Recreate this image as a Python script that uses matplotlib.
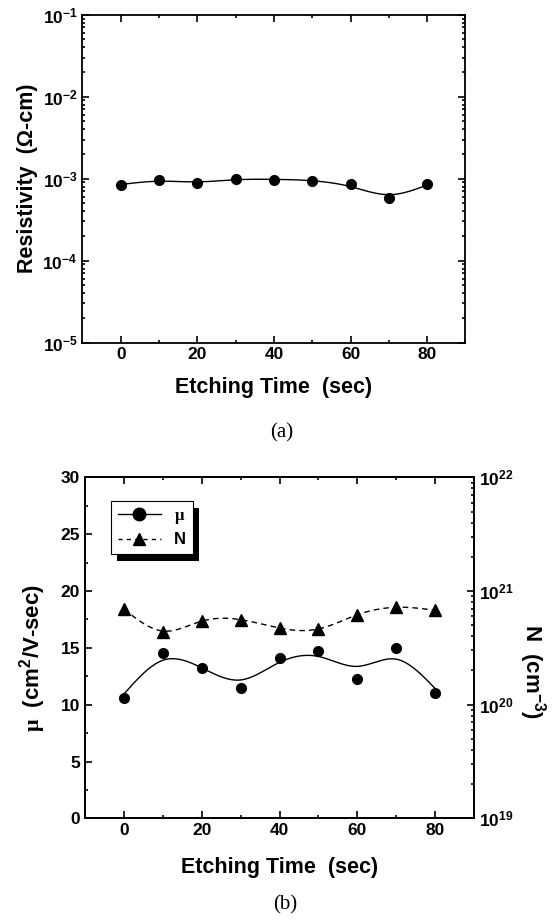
import numpy as np
import matplotlib
matplotlib.use("Agg")
import matplotlib.pyplot as plt
from matplotlib.ticker import MultipleLocator, FuncFormatter, NullFormatter, LogLocator
from matplotlib.lines import Line2D
from matplotlib.patches import Rectangle

plt.rcParams['font.family'] = ['Liberation Sans', 'DejaVu Sans']
plt.rcParams['font.weight'] = 'bold'
plt.rcParams['axes.labelweight'] = 'bold'
plt.rcParams['mathtext.fontset'] = 'custom'
plt.rcParams['mathtext.rm'] = 'Liberation Sans:bold'
plt.rcParams['mathtext.bf'] = 'Liberation Sans:bold'
plt.rcParams['mathtext.it'] = 'Liberation Sans:bold'
plt.rcParams['mathtext.sf'] = 'Liberation Serif'

# data
etch_time = [0, 10, 20, 30, 40, 50, 60, 70, 80]
resistivity = [8.4e-4, 9.6e-4, 8.8e-4, 9.9e-4, 9.7e-4, 9.4e-4, 8.5e-4, 5.8e-4, 8.7e-4]
mobility = [10.6, 14.55, 13.24, 11.46, 14.09, 14.73, 12.28, 15.02, 11.05]
carrier = [6.97e20, 4.4e20, 5.47e20, 5.6e20, 4.72e20, 4.62e20, 6.2e20, 7.2e20, 6.77e20]


def smooth(x, y, lam, step=0.5):
    # penalised least squares (discrete smoothing spline) on a fine grid
    x = np.asarray(x, float)
    y = np.asarray(y, float)
    xf = np.arange(x[0], x[-1] + step / 2, step)
    n = len(xf)
    idx = np.rint((x - x[0]) / step).astype(int)
    w = np.zeros(n)
    w[idx] = 1.0
    b = np.zeros(n)
    b[idx] = y
    D = np.diff(np.eye(n), 2, axis=0)
    z = np.linalg.solve(np.diag(w) + lam * D.T @ D, b)
    return xf, z


def log_fmt(v, pos):
    return r'$\mathbf{10^{%d}}$' % int(round(np.log10(v)))


def style(ax):
    for s in ax.spines.values():
        s.set_linewidth(1.3)
    ax.tick_params(which='both', direction='in', width=1.2, labelsize=12.5)
    ax.tick_params(which='major', length=5)
    ax.tick_params(which='minor', length=2.5)


fig = plt.figure(figsize=(5.55, 9.23), dpi=100)

# (a) resistivity
ax1 = fig.add_axes([0.1486, 0.6289, 0.690, 0.3551])
xs, zs = smooth(etch_time, np.log10(resistivity), 400)
ax1.plot(xs, 10 ** zs, color='black', lw=1.0)
ax1.plot(etch_time, resistivity, 'o', color='black', ms=7)
ax1.set_yscale('log')
ax1.set_ylim(1e-5, 1e-1)
ax1.set_xlim(-10, 90)
ax1.xaxis.set_major_locator(MultipleLocator(20))
ax1.xaxis.set_minor_locator(MultipleLocator(10))
ax1.yaxis.set_major_locator(LogLocator(base=10))
ax1.yaxis.set_major_formatter(FuncFormatter(log_fmt))
ax1.yaxis.set_minor_formatter(NullFormatter())
style(ax1)
ax1.tick_params(which='both', top=True, right=True)
ax1.set_xlabel('Etching Time  (sec)', fontsize=15.5)
ax1.set_ylabel('Resistivity  (Ω-cm)', fontsize=15.5)
ax1.xaxis.set_label_coords(0.5, -0.105)
ax1.yaxis.set_label_coords(-0.115, 0.5)
fig.text(281.7 / 555, 1 - 433 / 923, '(a)', family='Liberation Serif',
         fontsize=15, weight='normal', ha='center', va='center')

# (b) mobility and carrier concentration
ax2 = fig.add_axes([0.1532, 0.1134, 0.7009, 0.3694])
ax3 = ax2.twinx()
xs, zs = smooth(etch_time, mobility, 500)
ax2.plot(xs, zs, color='black', lw=1.0)
ax2.plot(etch_time, mobility, 'o', color='black', ms=7)
ax2.set_xlim(-10, 90)
ax2.set_ylim(0, 30)
ax2.xaxis.set_major_locator(MultipleLocator(20))
ax2.xaxis.set_minor_locator(MultipleLocator(10))
ax2.yaxis.set_major_locator(MultipleLocator(5))
ax2.yaxis.set_minor_locator(MultipleLocator(2.5))
style(ax2)
ax2.tick_params(which='both', top=True, right=False)
ax2.set_xlabel('Etching Time  (sec)', fontsize=15.5)
ax2.set_ylabel(r'$\mathsf{\mu}$  (cm$^{2}$/V-sec)', fontsize=16)
ax2.xaxis.set_label_coords(0.5, -0.1135)
ax2.yaxis.set_label_coords(-0.095, 0.47)

xs, zs = smooth(etch_time, np.log10(carrier), 30)
ax3.plot(xs, 10 ** zs, color='black', lw=1.0, ls=(0, (4, 3)))
ax3.plot(etch_time, carrier, '^', color='black', ms=8)
ax3.set_yscale('log')
ax3.set_ylim(1e19, 1e22)
ax3.yaxis.set_major_formatter(FuncFormatter(log_fmt))
ax3.yaxis.set_minor_formatter(NullFormatter())
style(ax3)
ax3.set_ylabel('N  (cm$^{-3}$)', fontsize=16, rotation=270)
ax3.yaxis.set_label_coords(1.19, 0.43)

handles = [Line2D([], [], color='black', lw=1.0, marker='o', ms=9),
           Line2D([], [], color='black', lw=1.0, ls=(0, (3, 3)), marker='^', ms=9)]
leg = ax3.legend(handles, [r'$\mathsf{\mu}$', 'N'], loc='upper left',
                 bbox_to_anchor=(0.0668, 0.9305), borderaxespad=0, fontsize=12,
                 fancybox=False, edgecolor='black', framealpha=1,
                 handlelength=2.6, borderpad=0.4, labelspacing=0.4)
leg.get_frame().set_linewidth(0.8)
leg.set_zorder(6)

fig.canvas.draw()
bb = leg.get_window_extent().transformed(ax3.transAxes.inverted())
dx = 6 / (ax3.bbox.width)
dy = 7 / (ax3.bbox.height)
ax3.add_patch(Rectangle((bb.x0 + dx, bb.y0 - dy), bb.width, bb.height,
                        transform=ax3.transAxes, facecolor='black',
                        edgecolor='none', zorder=5, clip_on=False))

fig.text(285 / 555, 1 - 905 / 923, '(b)', family='Liberation Serif',
         fontsize=15, weight='normal', ha='center', va='center')

fig.savefig('out.png', dpi=100)
